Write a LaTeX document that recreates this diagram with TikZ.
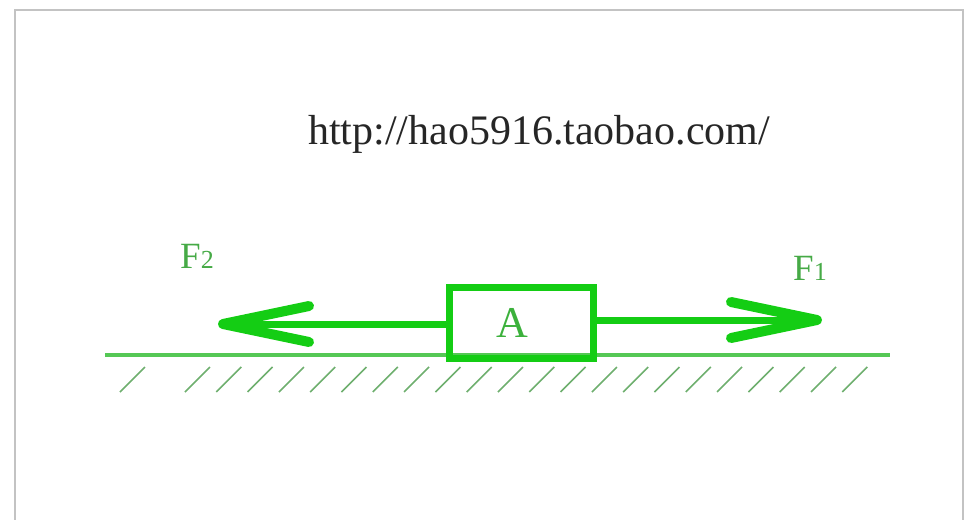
\documentclass[tikz,border=0pt]{standalone}
\usepackage{fontspec}
\setmainfont{Liberation Serif}
\usetikzlibrary{arrows.meta}
\definecolor{forcegreen}{RGB}{20,205,20}
\definecolor{groundgreen}{RGB}{85,200,85}
\definecolor{hatchgreen}{RGB}{110,175,110}
\definecolor{labelgreen}{RGB}{70,170,70}
\definecolor{framegray}{RGB}{195,195,195}

\begin{document}
\begin{tikzpicture}[
x=0.5pt,
y=-0.5pt,
boxnode/.style={rectangle, draw=forcegreen, line width=3.5pt, minimum width=72pt, minimum height=35.5pt, inner sep=0pt, text=labelgreen!80!forcegreen, font=\fontsize{22}{22}\selectfont},
forcearrow/.style={draw=forcegreen, line width=3.5pt, -{Straight Barb[length=43pt,width=18pt,line width=5pt,round]}},
forcelabel/.style={text=labelgreen, font=\fontsize{18.5}{18.5}\selectfont, anchor=base},
hatchline/.style={draw=hatchgreen, line width=0.8pt},
]
\useasboundingbox (0,0) rectangle (976,520);
\draw[framegray, line width=1pt] (15,521) |- (963,9.5) -- (963,521);
\node[anchor=base, text=black!85, font=\fontsize{21}{21}\selectfont] (url) at (539,144) {http://hao5916.taobao.com/};
% ground and hatching
\coordinate (groundL) at (105,355);
\coordinate (groundR) at (890,355);
\draw[groundgreen, line width=1.75pt] (groundL) -- (groundR);
\draw[hatchline] (120,392) -- ++(25,-25);
\foreach \k in {0,...,21}
{
 \draw[hatchline] ({185+31.3*\k},392) -- ++(25,-25);
}
% block and forces
\node[boxnode] (A) at (521,322.5) {\hspace*{-9pt}A};
\coordinate (f1tip) at (822,320);
\coordinate (f2tip) at (218,324);
\draw[forcearrow] (A.east |- f1tip) -- (f1tip);
\draw[forcearrow] (A.west |- f2tip) -- (f2tip);
\node[forcelabel] (F1) at (810,280) {F{\fontsize{13}{13}\selectfont 1}};
\node[forcelabel] (F2) at (197,268) {F{\fontsize{13}{13}\selectfont 2}};
\end{tikzpicture}
\end{document}
